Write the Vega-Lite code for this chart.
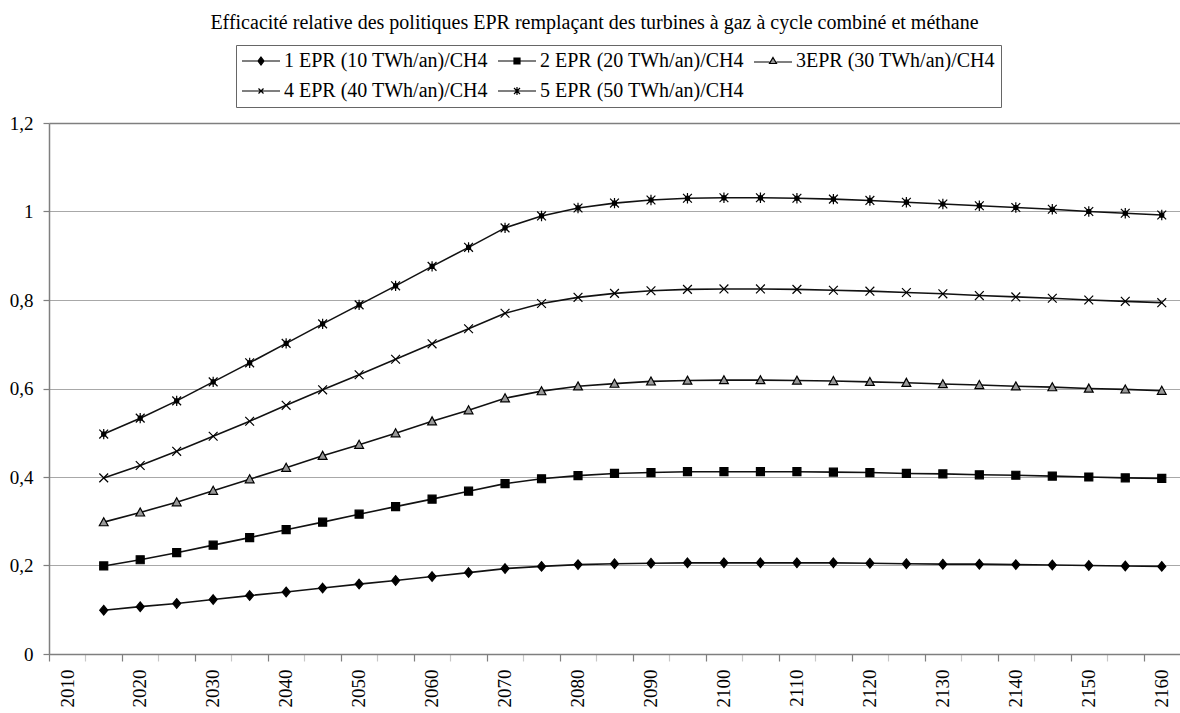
{
  "$schema": "https://vega.github.io/schema/vega-lite/v6.json",
  "autosize": {"type": "none"},
  "padding": {"left": 49, "top": 123, "right": 0, "bottom": 59},
  "width": 1131,
  "height": 531,
  "background": "white",
  "title": {
    "text": "Efficacité relative des politiques  EPR remplaçant des turbines à gaz à cycle combiné et méthane",
    "anchor": "middle",
    "frame": "group",
    "dx": -20,
    "offset": 12,
    "font": "Liberation Serif",
    "fontSize": 20,
    "fontWeight": "normal",
    "color": "black"
  },
  "config": {
    "font": "Liberation Serif",
    "view": {"stroke": null}
  },
  "data": {
    "values": [
      {"year": 2017.5, "series": "1 EPR (10 TWh/an)/CH4", "value": 0.099},
      {"year": 2022.5, "series": "1 EPR (10 TWh/an)/CH4", "value": 0.107},
      {"year": 2027.5, "series": "1 EPR (10 TWh/an)/CH4", "value": 0.114},
      {"year": 2032.5, "series": "1 EPR (10 TWh/an)/CH4", "value": 0.123},
      {"year": 2037.5, "series": "1 EPR (10 TWh/an)/CH4", "value": 0.132},
      {"year": 2042.5, "series": "1 EPR (10 TWh/an)/CH4", "value": 0.140},
      {"year": 2047.5, "series": "1 EPR (10 TWh/an)/CH4", "value": 0.149},
      {"year": 2052.5, "series": "1 EPR (10 TWh/an)/CH4", "value": 0.158},
      {"year": 2057.5, "series": "1 EPR (10 TWh/an)/CH4", "value": 0.166},
      {"year": 2062.5, "series": "1 EPR (10 TWh/an)/CH4", "value": 0.175},
      {"year": 2067.5, "series": "1 EPR (10 TWh/an)/CH4", "value": 0.184},
      {"year": 2072.5, "series": "1 EPR (10 TWh/an)/CH4", "value": 0.193},
      {"year": 2077.5, "series": "1 EPR (10 TWh/an)/CH4", "value": 0.198},
      {"year": 2082.5, "series": "1 EPR (10 TWh/an)/CH4", "value": 0.202},
      {"year": 2087.5, "series": "1 EPR (10 TWh/an)/CH4", "value": 0.204},
      {"year": 2092.5, "series": "1 EPR (10 TWh/an)/CH4", "value": 0.205},
      {"year": 2097.5, "series": "1 EPR (10 TWh/an)/CH4", "value": 0.206},
      {"year": 2102.5, "series": "1 EPR (10 TWh/an)/CH4", "value": 0.206},
      {"year": 2107.5, "series": "1 EPR (10 TWh/an)/CH4", "value": 0.206},
      {"year": 2112.5, "series": "1 EPR (10 TWh/an)/CH4", "value": 0.206},
      {"year": 2117.5, "series": "1 EPR (10 TWh/an)/CH4", "value": 0.206},
      {"year": 2122.5, "series": "1 EPR (10 TWh/an)/CH4", "value": 0.205},
      {"year": 2127.5, "series": "1 EPR (10 TWh/an)/CH4", "value": 0.204},
      {"year": 2132.5, "series": "1 EPR (10 TWh/an)/CH4", "value": 0.203},
      {"year": 2137.5, "series": "1 EPR (10 TWh/an)/CH4", "value": 0.203},
      {"year": 2142.5, "series": "1 EPR (10 TWh/an)/CH4", "value": 0.202},
      {"year": 2147.5, "series": "1 EPR (10 TWh/an)/CH4", "value": 0.201},
      {"year": 2152.5, "series": "1 EPR (10 TWh/an)/CH4", "value": 0.200},
      {"year": 2157.5, "series": "1 EPR (10 TWh/an)/CH4", "value": 0.199},
      {"year": 2162.5, "series": "1 EPR (10 TWh/an)/CH4", "value": 0.198},
      {"year": 2017.5, "series": "2 EPR (20 TWh/an)/CH4", "value": 0.199},
      {"year": 2022.5, "series": "2 EPR (20 TWh/an)/CH4", "value": 0.213},
      {"year": 2027.5, "series": "2 EPR (20 TWh/an)/CH4", "value": 0.229},
      {"year": 2032.5, "series": "2 EPR (20 TWh/an)/CH4", "value": 0.246},
      {"year": 2037.5, "series": "2 EPR (20 TWh/an)/CH4", "value": 0.263},
      {"year": 2042.5, "series": "2 EPR (20 TWh/an)/CH4", "value": 0.281},
      {"year": 2047.5, "series": "2 EPR (20 TWh/an)/CH4", "value": 0.298},
      {"year": 2052.5, "series": "2 EPR (20 TWh/an)/CH4", "value": 0.316},
      {"year": 2057.5, "series": "2 EPR (20 TWh/an)/CH4", "value": 0.333},
      {"year": 2062.5, "series": "2 EPR (20 TWh/an)/CH4", "value": 0.350},
      {"year": 2067.5, "series": "2 EPR (20 TWh/an)/CH4", "value": 0.368},
      {"year": 2072.5, "series": "2 EPR (20 TWh/an)/CH4", "value": 0.385},
      {"year": 2077.5, "series": "2 EPR (20 TWh/an)/CH4", "value": 0.396},
      {"year": 2082.5, "series": "2 EPR (20 TWh/an)/CH4", "value": 0.403},
      {"year": 2087.5, "series": "2 EPR (20 TWh/an)/CH4", "value": 0.408},
      {"year": 2092.5, "series": "2 EPR (20 TWh/an)/CH4", "value": 0.410},
      {"year": 2097.5, "series": "2 EPR (20 TWh/an)/CH4", "value": 0.412},
      {"year": 2102.5, "series": "2 EPR (20 TWh/an)/CH4", "value": 0.412},
      {"year": 2107.5, "series": "2 EPR (20 TWh/an)/CH4", "value": 0.412},
      {"year": 2112.5, "series": "2 EPR (20 TWh/an)/CH4", "value": 0.412},
      {"year": 2117.5, "series": "2 EPR (20 TWh/an)/CH4", "value": 0.411},
      {"year": 2122.5, "series": "2 EPR (20 TWh/an)/CH4", "value": 0.410},
      {"year": 2127.5, "series": "2 EPR (20 TWh/an)/CH4", "value": 0.408},
      {"year": 2132.5, "series": "2 EPR (20 TWh/an)/CH4", "value": 0.407},
      {"year": 2137.5, "series": "2 EPR (20 TWh/an)/CH4", "value": 0.405},
      {"year": 2142.5, "series": "2 EPR (20 TWh/an)/CH4", "value": 0.404},
      {"year": 2147.5, "series": "2 EPR (20 TWh/an)/CH4", "value": 0.402},
      {"year": 2152.5, "series": "2 EPR (20 TWh/an)/CH4", "value": 0.400},
      {"year": 2157.5, "series": "2 EPR (20 TWh/an)/CH4", "value": 0.398},
      {"year": 2162.5, "series": "2 EPR (20 TWh/an)/CH4", "value": 0.397},
      {"year": 2017.5, "series": "3EPR (30 TWh/an)/CH4", "value": 0.298},
      {"year": 2022.5, "series": "3EPR (30 TWh/an)/CH4", "value": 0.320},
      {"year": 2027.5, "series": "3EPR (30 TWh/an)/CH4", "value": 0.343},
      {"year": 2032.5, "series": "3EPR (30 TWh/an)/CH4", "value": 0.369},
      {"year": 2037.5, "series": "3EPR (30 TWh/an)/CH4", "value": 0.395},
      {"year": 2042.5, "series": "3EPR (30 TWh/an)/CH4", "value": 0.421},
      {"year": 2047.5, "series": "3EPR (30 TWh/an)/CH4", "value": 0.448},
      {"year": 2052.5, "series": "3EPR (30 TWh/an)/CH4", "value": 0.473},
      {"year": 2057.5, "series": "3EPR (30 TWh/an)/CH4", "value": 0.499},
      {"year": 2062.5, "series": "3EPR (30 TWh/an)/CH4", "value": 0.526},
      {"year": 2067.5, "series": "3EPR (30 TWh/an)/CH4", "value": 0.551},
      {"year": 2072.5, "series": "3EPR (30 TWh/an)/CH4", "value": 0.578},
      {"year": 2077.5, "series": "3EPR (30 TWh/an)/CH4", "value": 0.594},
      {"year": 2082.5, "series": "3EPR (30 TWh/an)/CH4", "value": 0.605},
      {"year": 2087.5, "series": "3EPR (30 TWh/an)/CH4", "value": 0.611},
      {"year": 2092.5, "series": "3EPR (30 TWh/an)/CH4", "value": 0.616},
      {"year": 2097.5, "series": "3EPR (30 TWh/an)/CH4", "value": 0.618},
      {"year": 2102.5, "series": "3EPR (30 TWh/an)/CH4", "value": 0.619},
      {"year": 2107.5, "series": "3EPR (30 TWh/an)/CH4", "value": 0.619},
      {"year": 2112.5, "series": "3EPR (30 TWh/an)/CH4", "value": 0.618},
      {"year": 2117.5, "series": "3EPR (30 TWh/an)/CH4", "value": 0.617},
      {"year": 2122.5, "series": "3EPR (30 TWh/an)/CH4", "value": 0.615},
      {"year": 2127.5, "series": "3EPR (30 TWh/an)/CH4", "value": 0.613},
      {"year": 2132.5, "series": "3EPR (30 TWh/an)/CH4", "value": 0.610},
      {"year": 2137.5, "series": "3EPR (30 TWh/an)/CH4", "value": 0.608},
      {"year": 2142.5, "series": "3EPR (30 TWh/an)/CH4", "value": 0.605},
      {"year": 2147.5, "series": "3EPR (30 TWh/an)/CH4", "value": 0.603},
      {"year": 2152.5, "series": "3EPR (30 TWh/an)/CH4", "value": 0.600},
      {"year": 2157.5, "series": "3EPR (30 TWh/an)/CH4", "value": 0.598},
      {"year": 2162.5, "series": "3EPR (30 TWh/an)/CH4", "value": 0.595},
      {"year": 2017.5, "series": "4 EPR (40 TWh/an)/CH4", "value": 0.398},
      {"year": 2022.5, "series": "4 EPR (40 TWh/an)/CH4", "value": 0.426},
      {"year": 2027.5, "series": "4 EPR (40 TWh/an)/CH4", "value": 0.458},
      {"year": 2032.5, "series": "4 EPR (40 TWh/an)/CH4", "value": 0.492},
      {"year": 2037.5, "series": "4 EPR (40 TWh/an)/CH4", "value": 0.526},
      {"year": 2042.5, "series": "4 EPR (40 TWh/an)/CH4", "value": 0.562},
      {"year": 2047.5, "series": "4 EPR (40 TWh/an)/CH4", "value": 0.597},
      {"year": 2052.5, "series": "4 EPR (40 TWh/an)/CH4", "value": 0.631},
      {"year": 2057.5, "series": "4 EPR (40 TWh/an)/CH4", "value": 0.666},
      {"year": 2062.5, "series": "4 EPR (40 TWh/an)/CH4", "value": 0.701},
      {"year": 2067.5, "series": "4 EPR (40 TWh/an)/CH4", "value": 0.735},
      {"year": 2072.5, "series": "4 EPR (40 TWh/an)/CH4", "value": 0.770},
      {"year": 2077.5, "series": "4 EPR (40 TWh/an)/CH4", "value": 0.792},
      {"year": 2082.5, "series": "4 EPR (40 TWh/an)/CH4", "value": 0.806},
      {"year": 2087.5, "series": "4 EPR (40 TWh/an)/CH4", "value": 0.815},
      {"year": 2092.5, "series": "4 EPR (40 TWh/an)/CH4", "value": 0.821},
      {"year": 2097.5, "series": "4 EPR (40 TWh/an)/CH4", "value": 0.824},
      {"year": 2102.5, "series": "4 EPR (40 TWh/an)/CH4", "value": 0.825},
      {"year": 2107.5, "series": "4 EPR (40 TWh/an)/CH4", "value": 0.825},
      {"year": 2112.5, "series": "4 EPR (40 TWh/an)/CH4", "value": 0.824},
      {"year": 2117.5, "series": "4 EPR (40 TWh/an)/CH4", "value": 0.822},
      {"year": 2122.5, "series": "4 EPR (40 TWh/an)/CH4", "value": 0.820},
      {"year": 2127.5, "series": "4 EPR (40 TWh/an)/CH4", "value": 0.817},
      {"year": 2132.5, "series": "4 EPR (40 TWh/an)/CH4", "value": 0.814},
      {"year": 2137.5, "series": "4 EPR (40 TWh/an)/CH4", "value": 0.810},
      {"year": 2142.5, "series": "4 EPR (40 TWh/an)/CH4", "value": 0.807},
      {"year": 2147.5, "series": "4 EPR (40 TWh/an)/CH4", "value": 0.804},
      {"year": 2152.5, "series": "4 EPR (40 TWh/an)/CH4", "value": 0.800},
      {"year": 2157.5, "series": "4 EPR (40 TWh/an)/CH4", "value": 0.797},
      {"year": 2162.5, "series": "4 EPR (40 TWh/an)/CH4", "value": 0.794},
      {"year": 2017.5, "series": "5 EPR (50 TWh/an)/CH4", "value": 0.497},
      {"year": 2022.5, "series": "5 EPR (50 TWh/an)/CH4", "value": 0.533},
      {"year": 2027.5, "series": "5 EPR (50 TWh/an)/CH4", "value": 0.572},
      {"year": 2032.5, "series": "5 EPR (50 TWh/an)/CH4", "value": 0.615},
      {"year": 2037.5, "series": "5 EPR (50 TWh/an)/CH4", "value": 0.658},
      {"year": 2042.5, "series": "5 EPR (50 TWh/an)/CH4", "value": 0.702},
      {"year": 2047.5, "series": "5 EPR (50 TWh/an)/CH4", "value": 0.746},
      {"year": 2052.5, "series": "5 EPR (50 TWh/an)/CH4", "value": 0.789},
      {"year": 2057.5, "series": "5 EPR (50 TWh/an)/CH4", "value": 0.832},
      {"year": 2062.5, "series": "5 EPR (50 TWh/an)/CH4", "value": 0.876},
      {"year": 2067.5, "series": "5 EPR (50 TWh/an)/CH4", "value": 0.919},
      {"year": 2072.5, "series": "5 EPR (50 TWh/an)/CH4", "value": 0.963},
      {"year": 2077.5, "series": "5 EPR (50 TWh/an)/CH4", "value": 0.990},
      {"year": 2082.5, "series": "5 EPR (50 TWh/an)/CH4", "value": 1.008},
      {"year": 2087.5, "series": "5 EPR (50 TWh/an)/CH4", "value": 1.019},
      {"year": 2092.5, "series": "5 EPR (50 TWh/an)/CH4", "value": 1.026},
      {"year": 2097.5, "series": "5 EPR (50 TWh/an)/CH4", "value": 1.030},
      {"year": 2102.5, "series": "5 EPR (50 TWh/an)/CH4", "value": 1.031},
      {"year": 2107.5, "series": "5 EPR (50 TWh/an)/CH4", "value": 1.031},
      {"year": 2112.5, "series": "5 EPR (50 TWh/an)/CH4", "value": 1.030},
      {"year": 2117.5, "series": "5 EPR (50 TWh/an)/CH4", "value": 1.028},
      {"year": 2122.5, "series": "5 EPR (50 TWh/an)/CH4", "value": 1.025},
      {"year": 2127.5, "series": "5 EPR (50 TWh/an)/CH4", "value": 1.021},
      {"year": 2132.5, "series": "5 EPR (50 TWh/an)/CH4", "value": 1.017},
      {"year": 2137.5, "series": "5 EPR (50 TWh/an)/CH4", "value": 1.013},
      {"year": 2142.5, "series": "5 EPR (50 TWh/an)/CH4", "value": 1.009},
      {"year": 2147.5, "series": "5 EPR (50 TWh/an)/CH4", "value": 1.005},
      {"year": 2152.5, "series": "5 EPR (50 TWh/an)/CH4", "value": 1.000},
      {"year": 2157.5, "series": "5 EPR (50 TWh/an)/CH4", "value": 0.996},
      {"year": 2162.5, "series": "5 EPR (50 TWh/an)/CH4", "value": 0.992}
    ]
  },
  "encoding": {
    "x": {
      "field": "year",
      "type": "quantitative",
      "scale": {"domain": [2010, 2165], "nice": false, "zero": false},
      "axis": {
        "title": null,
        "grid": false,
        "values": [2010, 2015, 2020, 2025, 2030, 2035, 2040, 2045, 2050, 2055, 2060, 2065, 2070, 2075, 2080, 2085, 2090, 2095, 2100, 2105, 2110, 2115, 2120, 2125, 2130, 2135, 2140, 2145, 2150, 2155, 2160],
        "labelExpr": "datum.value % 10 === 0 ? '' + datum.value : ''",
        "labelFont": "Liberation Serif",
        "labelColor": "black",
        "labelAngle": 270,
        "labelOffset": 18,
        "labelPadding": 8,
        "labelFontSize": 19,
        "labelOverlap": false,
        "labelFlush": false,
        "labelBound": false,
        "domainColor": "#7f7f7f",
        "domainWidth": 1.5,
        "tickSize": 7,
        "tickWidth": 1.2,
        "tickColor": {"condition": {"test": "datum.value % 10 === 0", "value": "#7f7f7f"}, "value": "#c8c8c8"}
      }
    },
    "y": {
      "field": "value",
      "type": "quantitative",
      "scale": {"domain": [0, 1.2], "nice": false},
      "axis": {
        "title": null,
        "values": [0, 0.2, 0.4, 0.6, 0.8, 1, 1.2],
        "labelExpr": "replace('' + datum.value, '.', ',')",
        "labelFont": "Liberation Serif",
        "labelColor": "black",
        "labelFontSize": 19,
        "labelPadding": 10,
        "tickSize": 6,
        "tickColor": "#7f7f7f",
        "tickWidth": 1.2,
        "domainColor": "#7f7f7f",
        "domainWidth": 1.5,
        "grid": true,
        "gridColor": {"condition": {"test": "datum.value === 1.2", "value": "#7f7f7f"}, "value": "#a8a8a8"},
        "gridWidth": {"condition": {"test": "datum.value === 1.2", "value": 1.5}, "value": 1}
      }
    }
  },
  "resolve": {"scale": {"shape": "independent", "fill": "independent"}},
  "layer": [
    {
      "mark": {"type": "line", "color": "#111111", "strokeWidth": 1.6},
      "encoding": {"detail": {"field": "series"}}
    },
    {
      "mark": {"type": "point", "stroke": "black", "strokeWidth": 1.2, "opacity": 1, "size": 64},
      "encoding": {
        "shape": {
          "field": "series",
          "type": "nominal",
          "scale": {
            "domain": ["1 EPR (10 TWh/an)/CH4", "2 EPR (20 TWh/an)/CH4", "3EPR (30 TWh/an)/CH4", "4 EPR (40 TWh/an)/CH4", "5 EPR (50 TWh/an)/CH4"],
            "range": [
              "M0,-1.2L1,0L0,1.2L-1,0Z",
              "M-1,-1H1V1H-1Z",
              "M0,-1.1L1.1,0.9H-1.1Z",
              "M-1.1,-1.1L1.1,1.1M-1.1,1.1L1.1,-1.1",
              "M-1.1,-1.1L1.1,1.1M-1.1,1.1L1.1,-1.1M0,-1.3V1.3M-0.5,-0.5H0.5V0.5H-0.5Z"
            ]
          },
          "legend": null
        },
        "fill": {
          "field": "series",
          "type": "nominal",
          "scale": {
            "domain": ["1 EPR (10 TWh/an)/CH4", "2 EPR (20 TWh/an)/CH4", "3EPR (30 TWh/an)/CH4", "4 EPR (40 TWh/an)/CH4", "5 EPR (50 TWh/an)/CH4"],
            "range": ["black", "black", "#999999", "transparent", "black"]
          },
          "legend": null
        }
      }
    },
    {
      "transform": [{"filter": "datum.value > 5"}],
      "mark": {"type": "point", "stroke": "black", "strokeWidth": 1.2, "opacity": 1, "size": 100},
      "encoding": {
        "shape": {
          "field": "series",
          "type": "nominal",
          "scale": {
            "domain": ["1 EPR (10 TWh/an)/CH4", "2 EPR (20 TWh/an)/CH4", "3EPR (30 TWh/an)/CH4", "4 EPR (40 TWh/an)/CH4", "5 EPR (50 TWh/an)/CH4"],
            "range": [
              "M-3.8,0H3.8M0,-0.8L0.6,0L0,0.8L-0.6,0Z",
              "M-3.8,0H3.8M-0.6,-0.6H0.6V0.6H-0.6Z",
              "M-3.8,0.2H-0.7M0.7,0.2H3.8M0,-0.7L0.7,0.5H-0.7Z",
              "M-3.8,0H3.8M-0.5,-0.5L0.5,0.5M-0.5,0.5L0.5,-0.5",
              "M-3.8,0H3.8M-0.6,-0.6L0.6,0.6M-0.6,0.6L0.6,-0.6M0,-0.8V0.8"
            ]
          },
          "legend": {
            "title": null,
            "orient": "none",
            "direction": "horizontal",
            "legendX": 187,
            "legendY": -78,
            "columns": 3,
            "columnPadding": 7,
            "rowPadding": 10,
            "padding": 6,
            "strokeColor": "#666666",
            "fillColor": "white",
            "symbolSize": 100,
            "symbolStrokeWidth": 1.2,
            "symbolOffset": 9,
            "labelOffset": 13,
            "labelFont": "Liberation Serif",
            "labelFontSize": 20,
            "labelColor": "black",
            "labelLimit": 0
          }
        },
        "fill": {
          "field": "series",
          "type": "nominal",
          "scale": {
            "domain": ["1 EPR (10 TWh/an)/CH4", "2 EPR (20 TWh/an)/CH4", "3EPR (30 TWh/an)/CH4", "4 EPR (40 TWh/an)/CH4", "5 EPR (50 TWh/an)/CH4"],
            "range": ["black", "black", "#999999", "transparent", "black"]
          },
          "legend": {"title": null}
        }
      }
    }
  ]
}
